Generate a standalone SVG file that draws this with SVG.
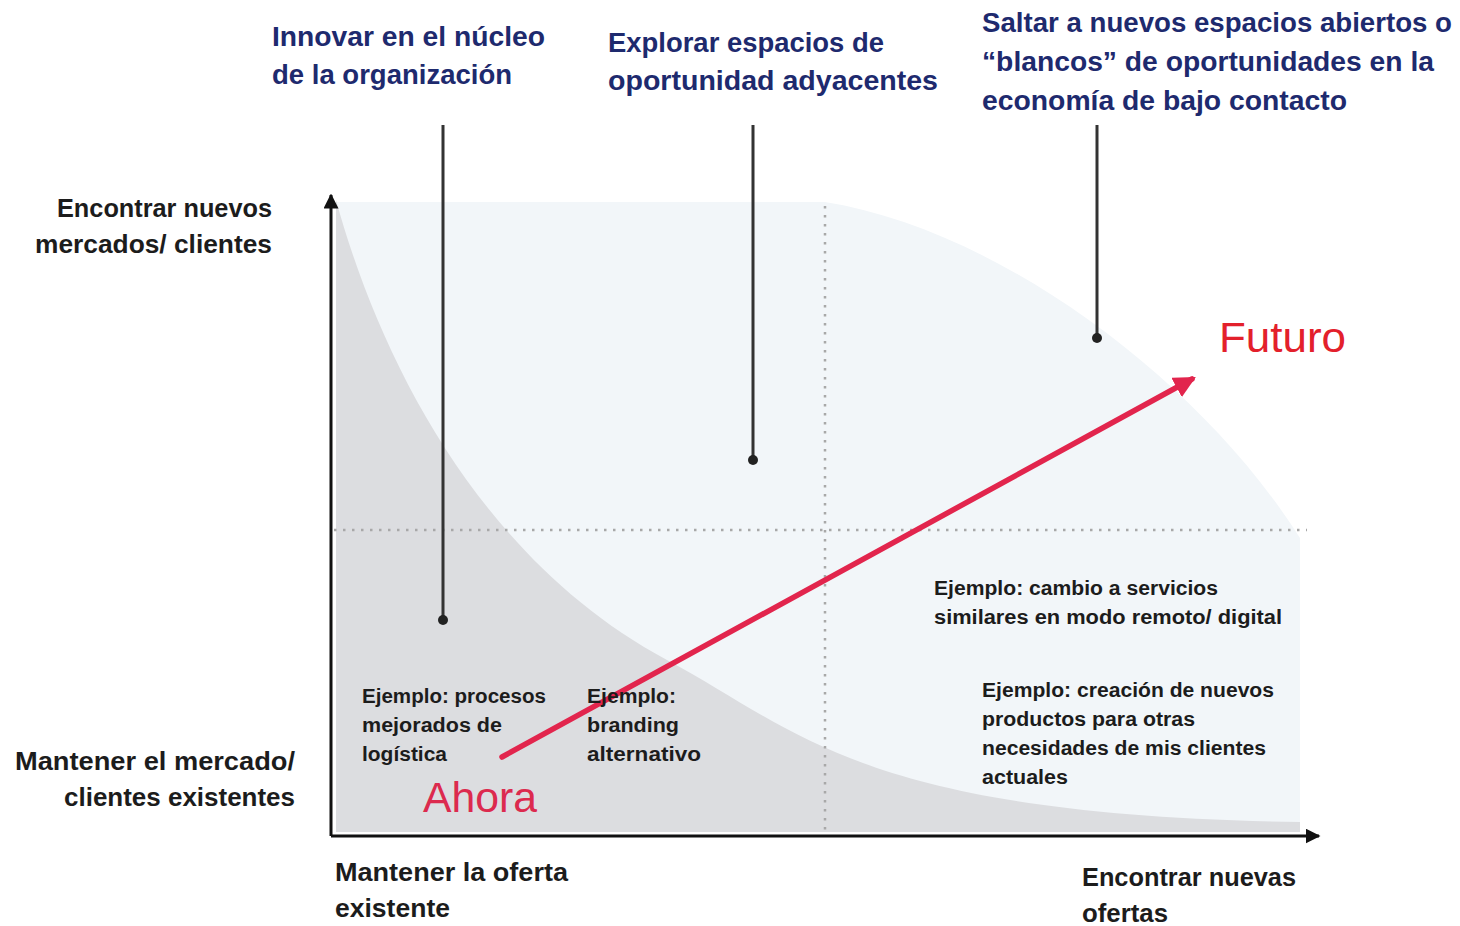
<svg xmlns="http://www.w3.org/2000/svg" width="1460" height="926" viewBox="0 0 1460 926">
  <style>
    .navy { font-family: "Liberation Sans", Arial, sans-serif; font-weight: bold; font-size: 27px; fill: #1e2a6e; }
    .axis { font-family: "Liberation Sans", Arial, sans-serif; font-weight: bold; font-size: 25px; fill: #1c1c1c; }
    .ex { font-family: "Liberation Sans", Arial, sans-serif; font-weight: bold; font-size: 20px; fill: #1c1c1c; }
    .red { font-family: "Liberation Sans", Arial, sans-serif; font-size: 42px; }
    .marker { stroke: #333; stroke-width: 3; fill: none; }
    .dot { fill: #222; }
    .dotted { stroke: #a8a8a8; stroke-width: 2.5; stroke-dasharray: 2.5 6.5; fill: none; }
    .ax { stroke: #111; stroke-width: 3; fill: none; }
  </style>
  <defs>
    <marker id="axhead" viewBox="0 0 10 10" refX="9" refY="5" markerWidth="5" markerHeight="5" orient="auto" markerUnits="strokeWidth">
      <path d="M0 0 L10 5 L0 10 Z" fill="#111"/>
    </marker>
    <marker id="redhead" viewBox="0 0 10 10" refX="8" refY="5" markerWidth="4" markerHeight="4" orient="auto" markerUnits="strokeWidth">
      <path d="M0 0 L10 5 L0 10 Z" fill="#e2254d"/>
    </marker>
  </defs>
  <rect width="1460" height="926" fill="#ffffff"/>

  <g id="regions">
    <path id="region-blue" d="M 336 202 L 825 202 C 1000 230, 1200 380, 1300 538 L 1300 832 L 336 832 Z" fill="#f2f6f9"/>
    <path id="region-gray" d="M 336 200 C 380 360, 480 560, 667 660 C 800 731, 860 815, 1300 822 L 1300 832 L 336 832 Z" fill="#dcdde0"/>
  </g>

  <g id="gridlines">
    <line class="dotted" x1="825" y1="206" x2="825" y2="830"/>
    <line class="dotted" x1="334" y1="530" x2="1307" y2="530"/>
  </g>

  <g id="axes">
    <line class="ax" x1="331" y1="836" x2="331" y2="195" marker-end="url(#axhead)"/>
    <line class="ax" x1="331" y1="836" x2="1319" y2="836" marker-end="url(#axhead)"/>
  </g>

  <g id="connectors">
    <line class="marker" x1="443" y1="125" x2="443" y2="620"/>
    <circle class="dot" cx="443" cy="620" r="5"/>
    <line class="marker" x1="753" y1="125" x2="753" y2="460"/>
    <circle class="dot" cx="753" cy="460" r="5"/>
    <line class="marker" x1="1097" y1="125" x2="1097" y2="338"/>
    <circle class="dot" cx="1097" cy="338" r="5"/>
    <line x1="502" y1="757" x2="1192" y2="379" stroke="#e2254d" stroke-width="5.5" stroke-linecap="round" marker-end="url(#redhead)"/>
  </g>

  <g id="node-innovar">
    <text class="navy" x="272" y="46" textLength="273" lengthAdjust="spacingAndGlyphs">Innovar en el núcleo</text>
    <text class="navy" x="272" y="84" textLength="240" lengthAdjust="spacingAndGlyphs">de la organización</text>
  </g>
  <g id="node-explorar">
    <text class="navy" x="608" y="52" textLength="276" lengthAdjust="spacingAndGlyphs">Explorar espacios de</text>
    <text class="navy" x="608" y="90" textLength="330" lengthAdjust="spacingAndGlyphs">oportunidad adyacentes</text>
  </g>
  <g id="node-saltar">
    <text class="navy" x="982" y="32" textLength="470" lengthAdjust="spacingAndGlyphs">Saltar a nuevos espacios abiertos o</text>
    <text class="navy" x="982" y="71" textLength="452" lengthAdjust="spacingAndGlyphs">“blancos” de oportunidades en la</text>
    <text class="navy" x="982" y="110" textLength="365" lengthAdjust="spacingAndGlyphs">economía de bajo contacto</text>
  </g>

  <g id="node-y-top">
    <text class="axis" x="57" y="217" textLength="215" lengthAdjust="spacingAndGlyphs">Encontrar nuevos</text>
    <text class="axis" x="35" y="253" textLength="237" lengthAdjust="spacingAndGlyphs">mercados/ clientes</text>
  </g>
  <g id="node-y-bottom">
    <text class="axis" x="15" y="770" textLength="280" lengthAdjust="spacingAndGlyphs">Mantener el mercado/</text>
    <text class="axis" x="64" y="806" textLength="231" lengthAdjust="spacingAndGlyphs">clientes existentes</text>
  </g>
  <g id="node-x-left">
    <text class="axis" x="335" y="881" textLength="233" lengthAdjust="spacingAndGlyphs">Mantener la oferta</text>
    <text class="axis" x="335" y="917" textLength="115" lengthAdjust="spacingAndGlyphs">existente</text>
  </g>
  <g id="node-x-right">
    <text class="axis" x="1082" y="886" textLength="214" lengthAdjust="spacingAndGlyphs">Encontrar nuevas</text>
    <text class="axis" x="1082" y="922" textLength="86" lengthAdjust="spacingAndGlyphs">ofertas</text>
  </g>

  <g id="node-ej-logistica">
    <text class="ex" x="362" y="703" textLength="184" lengthAdjust="spacingAndGlyphs">Ejemplo: procesos</text>
    <text class="ex" x="362" y="732" textLength="140" lengthAdjust="spacingAndGlyphs">mejorados de</text>
    <text class="ex" x="362" y="761" textLength="85" lengthAdjust="spacingAndGlyphs">logística</text>
  </g>
  <g id="node-ej-branding">
    <text class="ex" x="587" y="703" textLength="89" lengthAdjust="spacingAndGlyphs">Ejemplo:</text>
    <text class="ex" x="587" y="732" textLength="92" lengthAdjust="spacingAndGlyphs">branding</text>
    <text class="ex" x="587" y="761" textLength="114" lengthAdjust="spacingAndGlyphs">alternativo</text>
  </g>
  <g id="node-ej-remoto">
    <text class="ex" x="934" y="595" textLength="284" lengthAdjust="spacingAndGlyphs">Ejemplo: cambio a servicios</text>
    <text class="ex" x="934" y="624" textLength="348" lengthAdjust="spacingAndGlyphs">similares en modo remoto/ digital</text>
  </g>
  <g id="node-ej-productos">
    <text class="ex" x="982" y="697" textLength="292" lengthAdjust="spacingAndGlyphs">Ejemplo: creación de nuevos</text>
    <text class="ex" x="982" y="726" textLength="213" lengthAdjust="spacingAndGlyphs">productos para otras</text>
    <text class="ex" x="982" y="755" textLength="284" lengthAdjust="spacingAndGlyphs">necesidades de mis clientes</text>
    <text class="ex" x="982" y="784" textLength="86" lengthAdjust="spacingAndGlyphs">actuales</text>
  </g>

  <g id="node-ahora">
    <text class="red" x="423" y="812" fill="#dc2a4e" textLength="114" lengthAdjust="spacingAndGlyphs">Ahora</text>
  </g>
  <g id="node-futuro">
    <text class="red" x="1219" y="352" fill="#e3202b" textLength="127" lengthAdjust="spacingAndGlyphs">Futuro</text>
  </g>
</svg>
